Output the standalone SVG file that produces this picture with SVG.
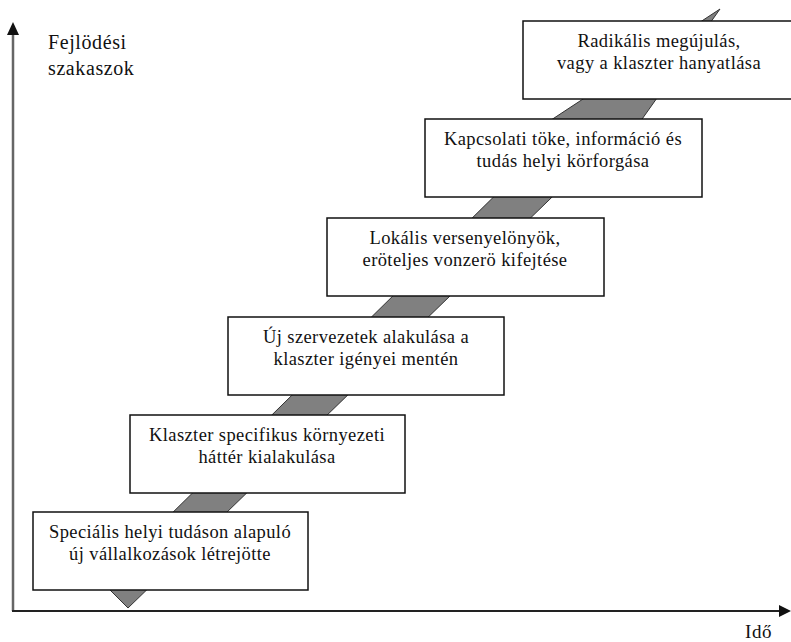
<svg xmlns="http://www.w3.org/2000/svg" width="791" height="642" viewBox="0 0 791 642">
<style>
.box{fill:#fff;stroke:#111;stroke-width:1.5}
.t{font-family:"Liberation Serif","Times New Roman",serif;font-size:18.5px;letter-spacing:0.4px;fill:#111;text-anchor:middle}
.ax{font-family:"Liberation Serif","Times New Roman",serif;font-size:20px;letter-spacing:0.6px;fill:#111}
.band{fill:#808080;stroke:#333;stroke-width:1}
</style>
<rect width="791" height="642" fill="#fff"/>
<g id="axes">
<line x1="13" y1="611" x2="13" y2="32" stroke="#666" stroke-width="2.5"/>
<polygon points="13,22 7,35 19,35" fill="#111"/>
<line x1="12" y1="611" x2="781" y2="611" stroke="#222" stroke-width="2"/>
<polygon points="791,611 779,605 779,617" fill="#111"/>
<text class="ax" x="48" y="49">Fejlödési</text>
<text class="ax" x="48" y="75">szakaszok</text>
<text class="ax" x="745" y="638" style="font-size:19px">Idő</text>
</g>
<g id="connectors">
<polygon class="band" points="128,608 102,582 521,170 475,170 720,9 606,170 580,170"/>
</g>
<g id="n0"><rect class="box" x="33" y="512" width="275" height="78"/><text class="t" x="170" y="538">Speciális helyi tudáson alapuló</text><text class="t" x="170" y="560">új vállalkozások létrejötte</text></g>
<g id="n1"><rect class="box" x="130" y="415" width="275" height="78"/><text class="t" x="267" y="441">Klaszter specifikus környezeti</text><text class="t" x="267" y="463">háttér kialakulása</text></g>
<g id="n2"><rect class="box" x="228" y="317" width="276" height="78"/><text class="t" x="366" y="343">Új szervezetek alakulása a</text><text class="t" x="366" y="365">klaszter igényei mentén</text></g>
<g id="n3"><rect class="box" x="327" y="218" width="277" height="78"/><text class="t" x="465" y="244">Lokális versenyelönyök,</text><text class="t" x="465" y="266">eröteljes vonzerö kifejtése</text></g>
<g id="n4"><rect class="box" x="425" y="119" width="277" height="78"/><text class="t" x="563" y="145">Kapcsolati töke, információ és</text><text class="t" x="563" y="167">tudás helyi körforgása</text></g>
<g id="n5"><rect class="box" x="523" y="21" width="277" height="78"/><text class="t" x="659" y="47">Radikális megújulás,</text><text class="t" x="659" y="69">vagy a klaszter hanyatlása</text></g>
</svg>
